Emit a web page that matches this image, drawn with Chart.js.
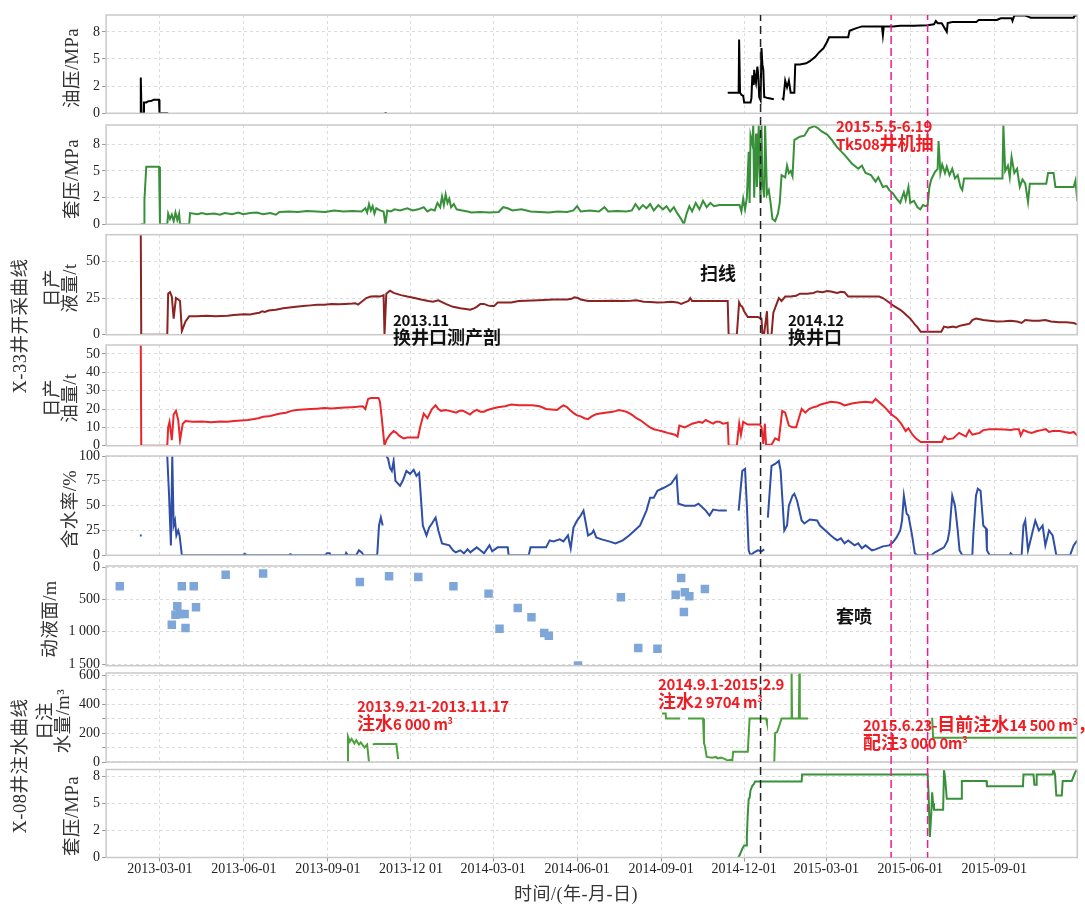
<!DOCTYPE html>
<html>
<head>
<meta charset="utf-8">
<script src="https://cdn.jsdelivr.net/npm/chart.js@4.4.0/dist/chart.umd.min.js"></script>
<style>
  body { margin: 0; background: #fff; }
  #wrap { position: relative; width: 1085px; height: 904px; overflow: hidden; background: #fff; }
  .rot { position: absolute; z-index: 2; transform: translate(-50%, -50%) rotate(-90deg); white-space: nowrap; text-align: center;
         font-family: "Liberation Serif", "Noto Sans CJK SC", serif; color: #333; }
  .yt { font-size: 18.5px; line-height: 18px; letter-spacing: 0.5px; }
  .big { font-size: 18.5px; line-height: 20px; letter-spacing: 0.5px; }
  .xt { position: absolute; z-index: 2; transform: translate(-50%, -50%); white-space: nowrap;
        font-family: "Liberation Serif", "Noto Sans CJK SC", serif; font-size: 18px; letter-spacing: 0.5px; color: #333; }
  .ann { position: absolute; z-index: 3; white-space: pre; font-family: "Noto Sans CJK SC", sans-serif;
         font-weight: bold; font-size: 15px; letter-spacing: -0.3px; line-height: 17px; }
  .ann .c { font-size: 18px; letter-spacing: 0; }
  .red { color: #ee1d23; }
  .blk { color: #111; }
  .ann sup { font-size: 9px; vertical-align: 6px; line-height: 0; }
</style>
</head>
<body>
<div id="wrap">
  <div class="rot yt" style="left:72px;top:68px">油压/MPa</div>
  <div class="rot yt" style="left:72px;top:179px">套压/MPa</div>
  <div class="rot yt" style="left:61px;top:288px">日产<br>液量/t</div>
  <div class="rot yt" style="left:61px;top:398px">日产<br>油量/t</div>
  <div class="rot yt" style="left:70px;top:509px">含水率/%</div>
  <div class="rot yt" style="left:50px;top:619px">动液面/m</div>
  <div class="rot yt" style="left:54px;top:721px">日注<br>水量/m³</div>
  <div class="rot yt" style="left:72px;top:816px">套压/MPa</div>
  <div class="rot big" style="left:20px;top:326px">X-33井开采曲线</div>
  <div class="rot big" style="left:20px;top:766px">X-08井注水曲线</div>
  <div class="xt" style="left:576px;top:892px">时间/(年-月-日)</div>

  <div class="ann red" style="left:836px;top:117px">2015.5.5-6.19<br>Tk508<span class="c">井机抽</span></div>
  <div class="ann blk" style="left:700px;top:264px"><span class="c">扫线</span></div>
  <div class="ann blk" style="left:393px;top:311px">2013.11<br><span class="c">换井口测产剖</span></div>
  <div class="ann blk" style="left:788px;top:311px">2014.12<br><span class="c">换井口</span></div>
  <div class="ann blk" style="left:836px;top:607px"><span class="c">套喷</span></div>
  <div class="ann red" style="left:357px;top:697px">2013.9.21-2013.11.17<br><span class="c">注水</span>6 000 m<sup>3</sup></div>
  <div class="ann red" style="left:658px;top:675px">2014.9.1-2015.2.9<br><span class="c">注水</span>2 9704 m<sup>3</sup></div>
  <div class="ann red" style="left:863px;top:715px">2015.6.23-<span class="c">目前注水</span>14 500 m<sup>3</sup><span class="c">，</span><br><span class="c">配注</span>3 000 0m<sup>3</sup></div>
</div>
<script>
// time axis
const startDate = "2013-01-01";
const endDate = "2015-12-01";
const tickDates = ["2013-03-01", "2013-06-01", "2013-09-01", "2013-12-01", "2014-03-01", "2014-06-01",
                   "2014-09-01", "2014-12-01", "2015-03-01", "2015-06-01", "2015-09-01"];
const tickLabels = ["2013-03-01", "2013-06-01", "2013-09-01", "2013-12 01", "2014-03-01", "2014-06-01",
                    "2014-09-01", "2014-12-01", "2015-03-01", "2015-06-01", "2015-09-01"];
const blackLineDates = ["2014-12-19"];
const pinkLineDates = ["2015-05-11", "2015-06-20"];

// series: [days since 2013-01-01, value], null = no data
const oilPressure = [
  [38,0],[38,3.3],[38.8,0],[41,0],[41.5,1.0],[44,1.0],[46,1.1],[50,1.15],[52,1.25],[58,1.25],[58.5,0],[68,0],null,
  [305,0],[307.5,0],null,
  [681,1.9],[693,1.9],[693.5,6.8],[694.5,1.9],[696,1.7],[698,1.6],[699,1.0],[706,1.0],[707,1.4],[708,3.5],[709.5,2.6],
  [710,4.0],[711,3.2],[712,2.8],[713.5,4.3],[714.5,3.5],[715.5,1.5],[717,1.2],[718,6.0],[719,4.5],[720,4.0],[721,1.5],
  [725,1.4],[731.5,1.3],null,
  [740.5,1.4],[742,1.3],[744,3.0],[746,2.4],[748,3.0],[750,1.9],[754,1.9],[755,4.5],[760,4.5],[767,4.6],[771,4.8],
  [777,5.2],[781,5.6],[786,6.0],[790,6.6],[792,7.0],[813,7.0],[814.5,7.6],[820.5,7.8],[828,8.0],[850,8.0],[851,7.2],
  [852,8.0],[862,8.0],[870,8.05],[885,8.05],[900,8.1],[907,8.2],[909,8.5],[911,8.3],[915.5,8.3],[921,7.5],[922,8.3],
  [927,8.4],[953.5,8.4],[956,8.6],[976,8.6],[980,8.75],[992,8.75],[993,8.5],[995,9.0],[1007,9.0],[1010,8.9],[1013,8.8],
  [1060,8.8],[1061,9.0],[1064,9.0]
];
const casingPressure = [
  [38,0],[42,0],[42,2.3],[44,5.4],[58,5.4],[59,0],[67,0],[68,1.0],[70,0.5],[72,0.9],[74,0.3],[76,1.1],[78,0.4],[80,1.0],
  [81,0],[91,0],[92,1.05],[100,0.95],[105,1.05],[110,0.95],[118,1.0],[125,0.9],[130,1.05],[138,0.95],[145,1.1],[150,0.95],
  [158,1.05],[165,1.1],[172,0.95],[180,1.05],[186,0.9],[190,1.15],[200,1.2],[210,1.15],[220,1.25],[230,1.2],[240,1.15],
  [250,1.3],[260,1.2],[270,1.25],[280,1.2],[284,1.5],[286,1.1],[288,1.9],[290,1.3],[292,1.7],[294,1.0],[296,1.5],[300,1.3],
  [304,1.2],[306,0],[308,1.3],[312,1.2],[316,1.4],[322,1.3],[330,1.5],[336,1.3],[342,1.4],[348,1.6],[352,1.2],[356,1.4],
  [360,1.3],[363,2.0],[366,1.6],[368,2.6],[370,1.8],[372,2.8],[374,2.0],[376,2.4],[378,1.6],[381,1.9],[384,1.4],[390,1.3],
  [396,1.2],[400,1.1],[410,1.15],[420,1.1],[430,1.15],[435,1.6],[440,1.5],[445,1.3],[455,1.4],[465,1.2],[475,1.15],
  [485,1.1],[495,1.2],[505,1.15],[512,1.3],[516,1.7],[520,1.2],[530,1.3],[540,1.2],[546,1.6],[550,1.2],[560,1.25],
  [570,1.2],[576,1.3],[580,1.9],[584,1.4],[588,1.8],[592,1.5],[596,1.9],[600,1.3],[605,1.8],[610,1.4],[614,1.7],[618,1.2],
  [622,1.6],[626,1.0],[630,0.5],[633,0],[636,1.0],[639,1.7],[642,1.2],[646,2.0],[650,1.4],[654,2.2],[658,1.6],[662,2.0],
  [666,1.7],[672,1.8],[685,1.8],[694,1.8],[696,1.2],[698,2.4],[700,1.4],[702,2.5],[704,6.8],[705,2.0],[706,8.3],[708,7.5],
  [709,9.3],[710,2.5],[712,8.5],[713,3.5],[715,9.3],[716,5.0],[717,2.0],[718,9.3],[719,4.0],[721,2.5],[722,9.3],[724,2.8],
  [726,3.2],[728,2.0],[730,0.5],[733,0.3],[736,1.0],[738,2.0],[740,4.6],[744,4.4],[746,5.5],[748,4.8],[750,5.0],[752,4.5],
  [754,7.9],[756,8.0],[760,8.2],[765,8.3],[770,9.0],[776,9.2],[780,9.0],[784,8.7],[790,8.4],[795,7.9],[801,7.2],[809,6.5],
  [817,5.7],[824,5.2],[828,5.5],[832,4.8],[838,4.6],[843,4.0],[846,4.4],[851,3.5],[855,3.6],[858,3.2],[862,2.9],[866,2.4],
  [870,2.0],[874,3.0],[876,2.3],[879,3.5],[881,2.0],[885,2.2],[889,1.6],[892,1.4],[895,1.8],[898,1.7],[900,1.8],[902,3.5],
  [904,4.2],[908,4.9],[911,5.2],[912,7.8],[914,4.8],[916,5.6],[919,4.8],[921,5.4],[924,4.6],[927,5.2],[930,4.3],[933,4.6],
  [936,3.5],[938,3.2],[940,4.3],[960,4.3],[982,4.3],[983,9.3],[985,5.0],[988,5.5],[990,4.4],[992,6.3],[995,4.8],[998,5.2],
  [1001,3.5],[1004,4.2],[1007,3.8],[1010,2.1],[1012,3.8],[1030,3.8],[1032,4.8],[1038,4.8],[1040,3.5],[1060,3.5],[1062,4.1],
  [1064,2.2]
];
const liquidRate = [
  [38,68],[38.5,0],[67,0],[68,28],[70,29],[72,26],[74,11],[76.5,25],[79,24],[81,23],[83,2.5],[87,9],[91,12.5],[100,12.5],
  [110,13],[120,12.5],[133,13],[140,13.5],[151,14],[158,13.8],[163,14.5],[168,15],[171,16],[174,15.5],[178,16.5],[186,17],
  [194,18],[201,18.5],[208,19],[216,19.5],[224,20],[231,20.5],[239,20.5],[247,21],[255,20.8],[262,21],[270,21.3],[273,21.5],
  [276,20.5],[279,22],[285,25],[290,26],[296,26.2],[300,26],[304,27],[305,0],[307,28],[311,30],[315,28.5],[323,27],[330,26],
  [338,25],[345,24],[353,23],[358,22.5],[364,23.5],[372,21],[376,20],[380,19],[388,18],[394,17.5],[399,17],[403,18],[406,19],
  [410,21],[414,21],[418,20],[421.5,19.5],[425,19.5],[429,22],[444,22],[452,23],[460,23.2],[474,23.5],[490,24],[505,24],
  [510,24.5],[513,25.5],[517,25],[520,24],[528,23],[540,23],[555,23.2],[566,23],[575,23.2],[581,23.5],[589,22.5],[596,22.3],
  [604,22],[612,22.2],[619,22.5],[626,22],[630,21],[634,22],[638,23],[640,25],[642,23],[660,23],[681,23],[682,0],[691,0],
  [693.5,22],[695,20],[697,19],[699,16],[703,12],[714,12],[718,11],[719,1],[721,1],[724,16],[725,0],[729,0],[731,15],
  [734,20],[737,25],[740,23],[744,26],[750,26],[756,26.5],[760,28],[768,28],[775,28.5],[779,29.5],[785,29],[790,29.8],
  [794,29.5],[801,28.5],[805,29.2],[809,29],[813,26],[847,26],[851,25],[858,22],[862,20],[866,18.5],[870,17],[874,15],
  [877.5,13],[881,11],[883.5,9],[886,7],[889,5],[892.5,2],[915,2],[918,5.5],[922,5],[928,5.5],[931,5],[935,6],[938,6.5],
  [942,7],[946,7.5],[949,10],[953,11],[957,10.5],[961,10],[968,9.5],[976,9],[984,9.2],[991,9.5],[998,9],[1003,8],[1007,10],
  [1015,9.5],[1022,9.5],[1029,10],[1035,9],[1044,8.5],[1052,8.5],[1060,8],[1064,7]
];
const oilRate = [
  [38,55],[38.5,0],[67,0],[68,10],[69.5,13],[72,3],[74,17],[76.5,19],[79,14],[81,3],[84,12],[87,13.5],[95,13],[105,13.2],
  [115,12.8],[125,13.2],[133,13],[140,13.5],[148,13.8],[155.5,14],[162,14.5],[167,15],[172,15.8],[178,16],[182,16.5],
  [186,17],[191,17.5],[197,18],[203,19],[208.7,19.5],[216,19.8],[224,20],[231,20.2],[239,20.5],[247,20.3],[254,20.5],
  [262,20.8],[269.5,21],[275,21.2],[281,21.5],[284,20],[287,25.5],[290,26],[298.5,26],[300,24],[302,15],[305,0],[307,3],
  [311,6],[315,8],[318,7],[321,5.5],[326,4],[330,4.5],[341.7,4.5],[344,10],[348,17.5],[352,15],[357,20],[361,22],[364,20],
  [367,19],[372,19.5],[376,19],[380,18.5],[383.5,18],[387,19],[391,19],[395,18],[398.7,17],[402,18.5],[406,19.5],[410,18.5],
  [414,18.5],[418,19.5],[421.5,20],[429,21],[437,21.5],[444,22.5],[452,22],[467,22],[475,21.5],[482,20],[488,19.8],
  [494,19.5],[498,21],[501,22],[505,21],[509,19],[513,17.5],[516,16.5],[520,16],[524,15],[528,14.5],[532,16],[536,17],
  [541,17.5],[547,18],[555,18.5],[559,19],[562,19.5],[566,19],[570,18.5],[574,17.5],[577,16.5],[581,15],[585,14],[589,12.5],
  [593,11],[596,10],[600,9],[604,8.5],[608,8],[612,7.5],[615,7],[619,6.5],[623,6],[626,5],[628,11],[634,10],[638,11],
  [642,12],[646,12.5],[650,13],[653,12.5],[657,14],[661,13],[665,12],[668,13],[672,13],[676,12],[681,12.5],[682,0],[691,0],
  [693.6,12],[695.5,6],[698,13],[703,11.5],[716.5,11.5],[718,10],[720,1],[721.7,12],[723,0.5],[729,0.5],[733,4],[737,3],
  [740.7,19],[744,18],[748,11],[752,10],[756,10],[762,20],[766,18],[770,20],[775,21],[779,21.5],[783,22.5],[787,23],
  [794,24],[801.5,23.5],[805,23],[809,22],[813,22.5],[817,23],[824,23.5],[832,24],[839.5,23.5],[843,25.5],[848.5,23],
  [853,21],[858.5,18],[862,16.5],[866,15],[871,12],[876,8],[879,9.5],[883.5,6],[887,4],[892.5,2],[915.5,2],[918.5,5],
  [922,3.5],[928,4],[934.5,7],[938,6],[942,5],[945.6,8.5],[949,6],[953,6.5],[957,7],[961,8.5],[968,9],[976,9],[984,8.8],
  [991,8.5],[995,9],[1000,9],[1002,5.5],[1005,8.5],[1010,7.5],[1014,7],[1020,8],[1025,8.5],[1029.5,9],[1033,7.5],[1037,8],
  [1045,8],[1050,7.5],[1056,7],[1060,7.5],[1064,5.5]
];
const waterCut = [
  [37,20],[39,20],null,
  [67,100],[69,60],[71,10],[72.5,100],[74,30],[75.5,35],[77,20],[79,25],[80.5,20],[83,0],[150,0],[152,1.5],[154,0],[200,0],
  [202,1.2],[204,0],[240,0],[242,2],[245,2],[246,0],[262,0],[263,2.5],[265,0],[274,0],[277,5],[280,3],[282,0],[297,0],
  [299,30],[301,38],[303,30],null,
  [307,100],[309,97],[311,88],[313,85],[315,95],[317,75],[322,70],[325,75],[329,85],[333,82],[337,86],[340,80],[343,83],
  [347,30],[351,20],[354,28],[357,32],[361,38],[364,25],[368,12],[376,10],[380,5],[383,3],[388,5],[392,2],[396,6],[399,3],
  [406,8],[410,5],[414,2],[420,10],[423,4],[429,8],[440,8],[441,0],[463,0],[465,8],[482,8],[486,15],[490,14],[497,16],
  [501,14],[506,20],[509,7],[512,28],[516,35],[520,40],[523,45],[525,35],[528,20],[532,22],[534,25],[537,18],[543,16],
  [551,14],[558,12],[566,15],[573,20],[579,25],[585,30],[592,45],[596,58],[600,58],[604,65],[611,68],[619,72],[625,80],
  [627,52],[634,50],[645,50],[649,52],[657,45],[661,40],[665,46],[672,45],[680,45],null,
  [693,45],[697,85],[700,87],[702,50],[704,5],[706,0],[710,3],[714,5],[718,4],[721,6],null,
  [725,38],[729,90],[733,92],[737,95],[739,85],[743,25],[746,30],[748,50],[752,60],[754,62],[757,55],[762,35],[765,32],
  [771,36],[779,35],[782,30],[788,25],[794,20],[798,17],[801,15],[805,17],[809,12],[813,15],[820,10],[824,12],[828,7],
  [832,10],[839,5],[843,6],[851,9],[858,10],[862,13],[866,18],[870,25],[872,35],[874,60],[877,42],[879,40],[883,20],[886,2],
  [889,0],[904,0],[908,3],[912,5],[918,8],[922,15],[924,25],[927,60],[930,50],[933,25],[935,5],[938,0],[949,0],[950,20],
  [953,60],[955,67],[958,65],[961,30],[964,27],[965,5],[968,0],[990,0],[991,2],[993,0],[1003,0],[1005,30],[1007,35],
  [1010,5],[1014,20],[1018,35],[1022,25],[1026,30],[1029,10],[1033,25],[1037,20],[1041,0],[1056,0],[1060,10],[1064,15]
];
const fluidLevel = [
  [15,295],[72,889],[76,734],[78,605],[81,724],[83,295],[86,724],[87,941],[96,295],[98.5,620],[131,114],[172,98],
  [278,227],[310,140],[342,150],[380.5,295],[419,408],[431,951],[451,631],[466,776],[480,1018],[485,1060],[517,1520],
  [564,465],[583,1251],[604,1261],[624,424],[630,165],[634,388],[633,693],[639,450],[656,336]
];
const injectionRate = [
  [264,0],[265,175],[267,140],[269,160],[272,128],[274,150],[277,120],[279,135],[283,100],[286,120],[288,0],null,
  [292,120],[294,125],[318,125],[320,20],null,
  [609,335],[613,335],[613.5,300],[629,300],null,
  [637.5,300],[654,300],[655,130],[656,110],[658,35],[664,30],[668,35],[670,25],[674,30],[678,20],[681,10],[684,15],
  [686,10],[687,70],[703,70],[705,300],[723,300],[724,270],null,
  [732,0],[733,200],[735,205],[738,260],[740,300],[750.5,300],[751,614],[751.5,300],[759,300],[759.5,614],[760,300],
  [769,300],null,
  [905,305],[906,168],[1064,168]
];
const injCasingPressure = [
  [692.6,0],[694,0.2],[695,0.4],[697,0.8],[699,1.1],[701.5,1.1],[702,2.0],[703,4.0],[704,5.4],[705,5.5],[706,6.2],
  [708,6.6],[710,6.8],[711,7.0],[762,7.0],[762.5,7.65],[900,7.65],[901,6.0],[902.5,1.9],[904,4.0],[905,6.0],[906,5.0],
  [907,4.4],[917,4.4],[918,8.1],[919.5,7.0],[921,5.4],[937,5.4],[937.5,7.05],[964.5,7.05],[965,6.55],[1004.5,6.55],
  [1005,7.65],[1016,7.65],[1017,6.7],[1019,6.7],[1019.5,7.65],[1037,7.65],[1037.7,8.2],[1039.6,7.65],[1041,5.7],[1047,5.7],
  [1048,7.05],[1058,7.05],[1059.6,7.4],[1061.5,7.8],[1063.5,8.1]
];

const dayOf = s => Math.round((Date.parse(s) - Date.parse(startDate)) / 864e5);

function toPoints(arr) {
  const out = [];
  let lastX = 0;
  arr.forEach(p => {
    if (p) { out.push({ x: p[0], y: p[1] }); lastX = p[0]; }
    else out.push({ x: lastX, y: null });
  });
  return out;
}

const W = 1085, H = 904, PLOT_LEFT = 106.1, PLOT_RIGHT = 1077.3, PAD = 14, XAXIS_H = 26;
const GRID = "#dcdcdc";
const tickFont = { family: "Liberation Serif", size: 14 };

const panels = [
  { top: 15, bottom: 113.3, series: oilPressure, color: "#000000", min: 0, max: 9.05, ticks: [0, 2.5, 5, 7.5], labels: ["0", "2", "5", "8"] },
  { top: 125, bottom: 224.3, series: casingPressure, color: "#38913a", min: 0, max: 9.3, ticks: [0, 2.5, 5, 7.5], labels: ["0", "2", "5", "8"] },
  { top: 234.7, bottom: 334.7, series: liquidRate, color: "#8b2323", min: 0, max: 68.2, ticks: [0, 25, 50], labels: ["0", "25", "50"] },
  { top: 345, bottom: 445.7, series: oilRate, color: "#e8262b", min: 0, max: 54.9, ticks: [0, 10, 20, 30, 40, 50], labels: ["0", "10", "20", "30", "40", "50"] },
  { top: 456, bottom: 555.3, series: waterCut, color: "#2f4fa6", min: 0, max: 100, ticks: [0, 25, 50, 75, 100], labels: ["0", "25", "50", "75", "100"] },
  { top: 566, bottom: 665.7, series: fluidLevel, scatter: true, color: "#7fa6d9", min: -20, max: 1525, reverse: true, ticks: [0, 500, 1000, 1500], labels: ["0", "500", "1 000", "1 500"] },
  { top: 673, bottom: 762, series: injectionRate, color: "#4b9f3c", min: 0, max: 614, ticks: [0, 100, 200, 300, 400, 500, 600], labels: ["0", "", "200", "", "400", "", "600"] },
  { top: 769.5, bottom: 857.5, series: injCasingPressure, color: "#38913a", min: 0, max: 8.1, ticks: [0, 2.5, 5, 7.5], labels: ["0", "2", "5", "8"] }
];

// frame around each panel + the event lines that run through all panels
const panelDecor = {
  id: "panelDecor",
  afterDatasetsDraw(chart, args, opts) {
    const { ctx, chartArea: a, scales: { x } } = chart;
    ctx.save();
    ctx.strokeStyle = "#c9c9c9";
    ctx.lineWidth = 1.5;
    ctx.strokeRect(a.left, a.top, a.right - a.left, a.bottom - a.top);
    const y1 = a.top - opts.gapAbove / 2;
    const y2 = a.bottom + opts.gapBelow / 2;
    const vline = (d, color, dash) => {
      const px = x.getPixelForValue(dayOf(d));
      ctx.beginPath();
      ctx.setLineDash(dash);
      ctx.lineDashOffset = opts.canvasTop + y1;
      ctx.strokeStyle = color;
      ctx.lineWidth = 1.5;
      ctx.moveTo(px, y1);
      ctx.lineTo(px, y2);
      ctx.stroke();
    };
    blackLineDates.forEach(d => vline(d, "#222222", [8, 5]));
    pinkLineDates.forEach(d => vline(d, "#ec1c8c", [8, 4]));
    ctx.restore();
  }
};

const wrap = document.getElementById("wrap");

panels.forEach((p, i) => {
  const last = i === panels.length - 1;
  const cTop = Math.floor(p.top - PAD);
  const cH = Math.ceil((last ? H : p.bottom + PAD) - cTop);
  const padTop = p.top - cTop;
  const padBottom = cTop + cH - p.bottom - (last ? XAXIS_H : 0);

  const canvas = document.createElement("canvas");
  canvas.width = W;
  canvas.height = cH;
  canvas.style.cssText = `position:absolute;left:0;top:${cTop}px;width:${W}px;height:${cH}px;z-index:1`;
  wrap.appendChild(canvas);

  const gapAbove = i ? p.top - panels[i - 1].bottom : 0;
  const gapBelow = last ? 0 : panels[i + 1].top - p.bottom;

  new Chart(canvas, {
    type: p.scatter ? "scatter" : "line",
    data: {
      datasets: [{
        data: toPoints(p.series),
        borderColor: p.color,
        backgroundColor: p.color,
        borderWidth: p.scatter ? 0 : 2,
        pointRadius: p.scatter ? 6 : 0,
        pointStyle: "rect",
        showLine: !p.scatter,
        tension: 0,
        spanGaps: false
      }]
    },
    options: {
      responsive: false,
      animation: false,
      devicePixelRatio: 1,
      layout: { padding: { top: padTop, bottom: padBottom, left: 0, right: W - PLOT_RIGHT } },
      plugins: {
        legend: { display: false },
        tooltip: { enabled: false },
        panelDecor: { gapAbove, gapBelow, canvasTop: cTop }
      },
      scales: {
        x: {
          type: "linear",
          min: 0,
          max: dayOf(endDate),
          afterBuildTicks: s => { s.ticks = tickDates.map(d => ({ value: dayOf(d) })); },
          afterFit: s => { s.height = last ? XAXIS_H : 0; },
          ticks: { display: last, autoSkip: false, maxRotation: 0, padding: -1, color: "#222", font: tickFont,
                   callback: (v, k) => tickLabels[k] },
          grid: { color: GRID, lineWidth: 1, drawTicks: last, tickLength: 4, tickColor: "#999", tickBorderDash: [], borderDash: [3, 3] },
          border: { display: false, dash: [3, 3] }
        },
        y: {
          min: p.min,
          max: p.max,
          reverse: !!p.reverse,
          afterBuildTicks: s => { s.ticks = p.ticks.map(v => ({ value: v })); },
          afterFit: s => { s.width = PLOT_LEFT; },
          ticks: { autoSkip: false, padding: 2, color: "#222", font: tickFont, callback: (v, k) => p.labels[k] },
          grid: { color: GRID, lineWidth: 1, tickLength: 4, tickColor: "#999", tickBorderDash: [], borderDash: [3, 3] },
          border: { display: false, dash: [3, 3] }
        }
      }
    },
    plugins: [panelDecor]
  });
});
</script>
</body>
</html>
